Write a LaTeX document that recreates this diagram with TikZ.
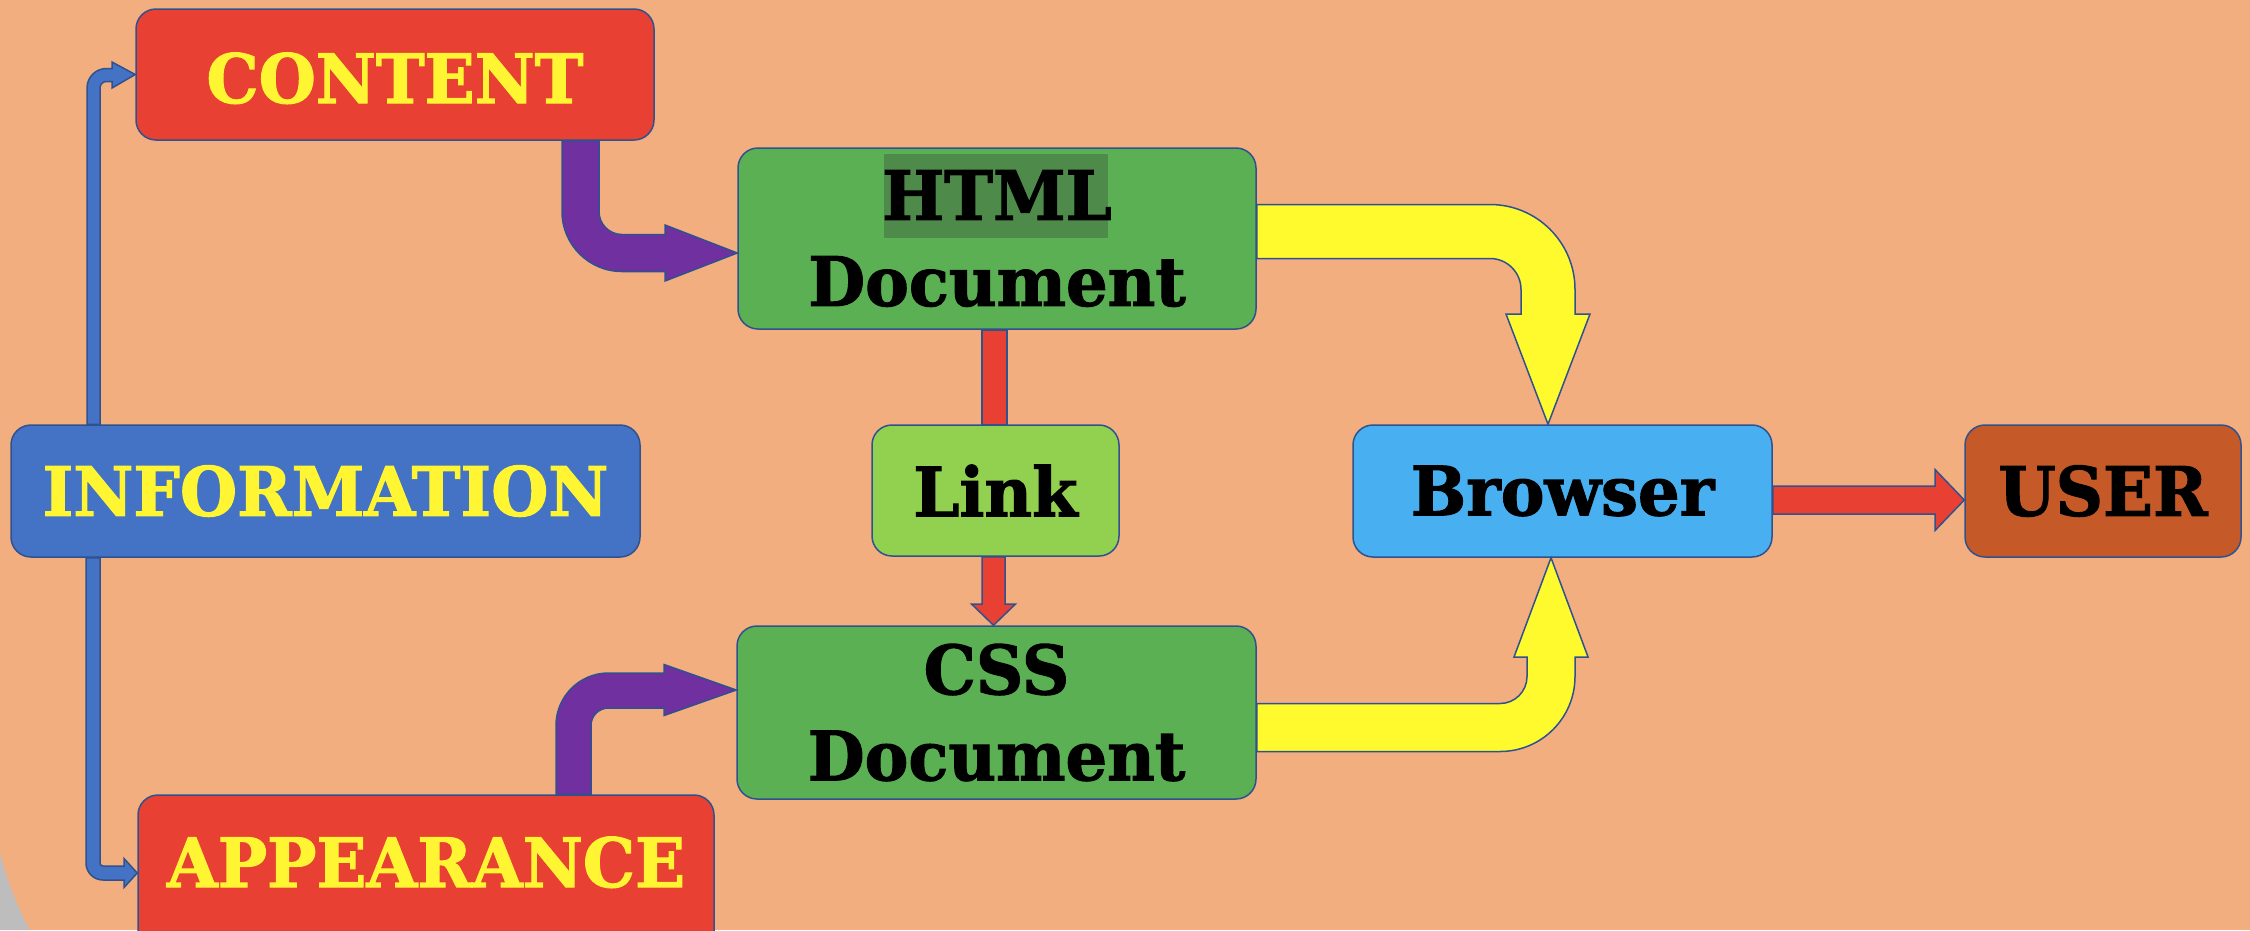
\documentclass[tikz,border=0pt]{standalone}
\usepackage{fontspec}
\setmainfont{DejaVu Serif}[BoldFeatures={FakeBold=1.6, FakeStretch=0.965}]
\usetikzlibrary{calc}
\definecolor{bg}{HTML}{F3AE80}
\definecolor{redbox}{HTML}{E84033}
\definecolor{txtyellow}{HTML}{FFF533}
\definecolor{infoblue}{HTML}{4472C4}
\definecolor{docgreen}{HTML}{5AB052}
\definecolor{linkgreen}{HTML}{92D050}
\definecolor{brblue}{HTML}{48B0F0}
\definecolor{userbrown}{HTML}{C55A28}
\definecolor{arrpurple}{HTML}{7030A0}
\definecolor{arryellow}{HTML}{FFFA2E}
\definecolor{outl}{HTML}{2F528F}
\definecolor{hl}{HTML}{4E8B4A}
\definecolor{greycorner}{HTML}{BDBDBD}
\begin{document}
\begin{tikzpicture}[x=1pt,y=-1pt,
  box/.style={draw=outl, line width=1.5pt, rounded corners=20pt, inner sep=0pt,
    font=\fontsize{68}{86}\selectfont\bfseries},
  twoline/.style={align=center},
  blockarrow/.style={draw=outl, line width=1.5pt, line join=miter, sharp corners},
]
\useasboundingbox (0,0) rectangle (2250,930);
\fill[bg] (0,0) rectangle (2250,930);
\fill[greycorner] (0,853) .. controls (10,890) and (20,912) .. (30,930) -- (0,930) -- cycle;

% boxes
\node[box, fill=redbox, text=txtyellow, minimum width=518pt, minimum height=131pt] (content) at (395,74.5) {\raisebox{-28.5pt}[0pt][0pt]{CONTENT}};
\node[box, twoline, fill=docgreen, minimum width=518pt, minimum height=181pt,
  path picture={\fill[hl, sharp corners] ($(path picture bounding box.center)+(-113,-84.5)$) rectangle ($(path picture bounding box.center)+(111,-0.5)$);}] (html) at (997,238.5) {HTML\\Document};
\node[box, fill=infoblue, text=txtyellow, minimum width=629pt, minimum height=132pt] (info) at (325.5,491) {INFORMATION};
\node[box, fill=linkgreen, minimum width=247pt, minimum height=131pt] (link) at (995.5,490.5) {Link};
\node[box, fill=brblue, minimum width=419pt, minimum height=132pt] (browser) at (1562.5,491) {Browser};
\node[box, fill=userbrown, minimum width=276pt, minimum height=132pt] (user) at (2103,491) {USER};
\node[box, twoline, fill=docgreen, minimum width=519pt, minimum height=173pt] (css) at (996.5,712.5) {CSS\\Document};
\node[box, fill=redbox, text=txtyellow, minimum width=576pt, minimum height=156pt] (appearance) at (426,873) {\raisebox{-14pt}[0pt][0pt]{APPEARANCE}};

% blue arrows
\draw[blockarrow, fill=infoblue] (87,0 |- info.north) -- (87,88) arc[start angle=180, end angle=270, radius=19.5] -- (112,68.5) -- (112,62) -- (content.west) -- (112,88) -- (112,81.5) -- (106.5,81.5) arc[start angle=270, end angle=180, radius=6.5] -- (100,88) -- (100,0 |- info.north) -- cycle;
\draw[blockarrow, fill=infoblue] (86,0 |- info.south) -- (86,863) arc[start angle=180, end angle=90, radius=17] -- (124,880) -- (124,887.5) -- (appearance.west) -- (124,858.5) -- (124,866) -- (103,866) arc[start angle=90, end angle=180, radius=3] -- (100,863) -- (100,0 |- info.south) -- cycle;

% purple arrows
\draw[blockarrow, fill=arrpurple] (562,0 |- content.south) -- (562,211.5) arc[start angle=180, end angle=90, radius=60] -- (665,271.5) -- (665,281) -- ($(html.west)+(0,14.5)$) -- (665,225) -- (665,234.5) -- (622,234.5) arc[start angle=90, end angle=180, radius=23] -- (599,211.5) -- (599,0 |- content.south) -- cycle;
\draw[blockarrow, fill=arrpurple] (556,0 |- appearance.north) -- (556,725.5) arc[start angle=180, end angle=270, radius=52.5] -- (664,673) -- (664,664.5) -- ($(css.west)+(0,-22.5)$) -- (664,715.5) -- (664,708) -- (608.5,708) arc[start angle=270, end angle=180, radius=17.5] -- (591,725.5) -- (591,0 |- appearance.north) -- cycle;

% yellow arrows
\draw[blockarrow, fill=arryellow] (html.east |- 0,204.5) -- (1490,204.5) arc[start angle=270, end angle=360, radius=85] -- (1575,314) -- (1590,314) -- ($(browser.north)+(-14.5,0)$) -- (1506,314) -- (1521,314) -- (1521,289.5) arc[start angle=0, end angle=-90, radius=31] -- (html.east |- 0,258.5) -- cycle;
\draw[blockarrow, fill=arryellow] (css.east |- 0,703.5) -- (1500,703.5) arc[start angle=90, end angle=0, radius=27] -- (1527,657) -- (1514,657) -- ($(browser.south)+(-11.5,0)$) -- (1588,657) -- (1575,657) -- (1575,676.5) arc[start angle=0, end angle=90, radius=75] -- (css.east |- 0,751.5) -- cycle;

% red arrows
\draw[blockarrow, fill=redbox] (982,0 |- link.north) rectangle (html.south -| 1007,0);
\draw[blockarrow, fill=redbox] (982,0 |- link.south) -- (982,604) -- (971.5,604) -- (993.5,0 |- css.north) -- (1015.5,604) -- (1005,604) -- (1005,0 |- link.south) -- cycle;
\draw[blockarrow, fill=redbox] (browser.east |- 0,486) -- (1935,486) -- (1935,469.5) -- ($(user.west)+(0,9)$) -- (1935,530.5) -- (1935,514) -- (browser.east |- 0,514) -- cycle;
\end{tikzpicture}
\end{document}
